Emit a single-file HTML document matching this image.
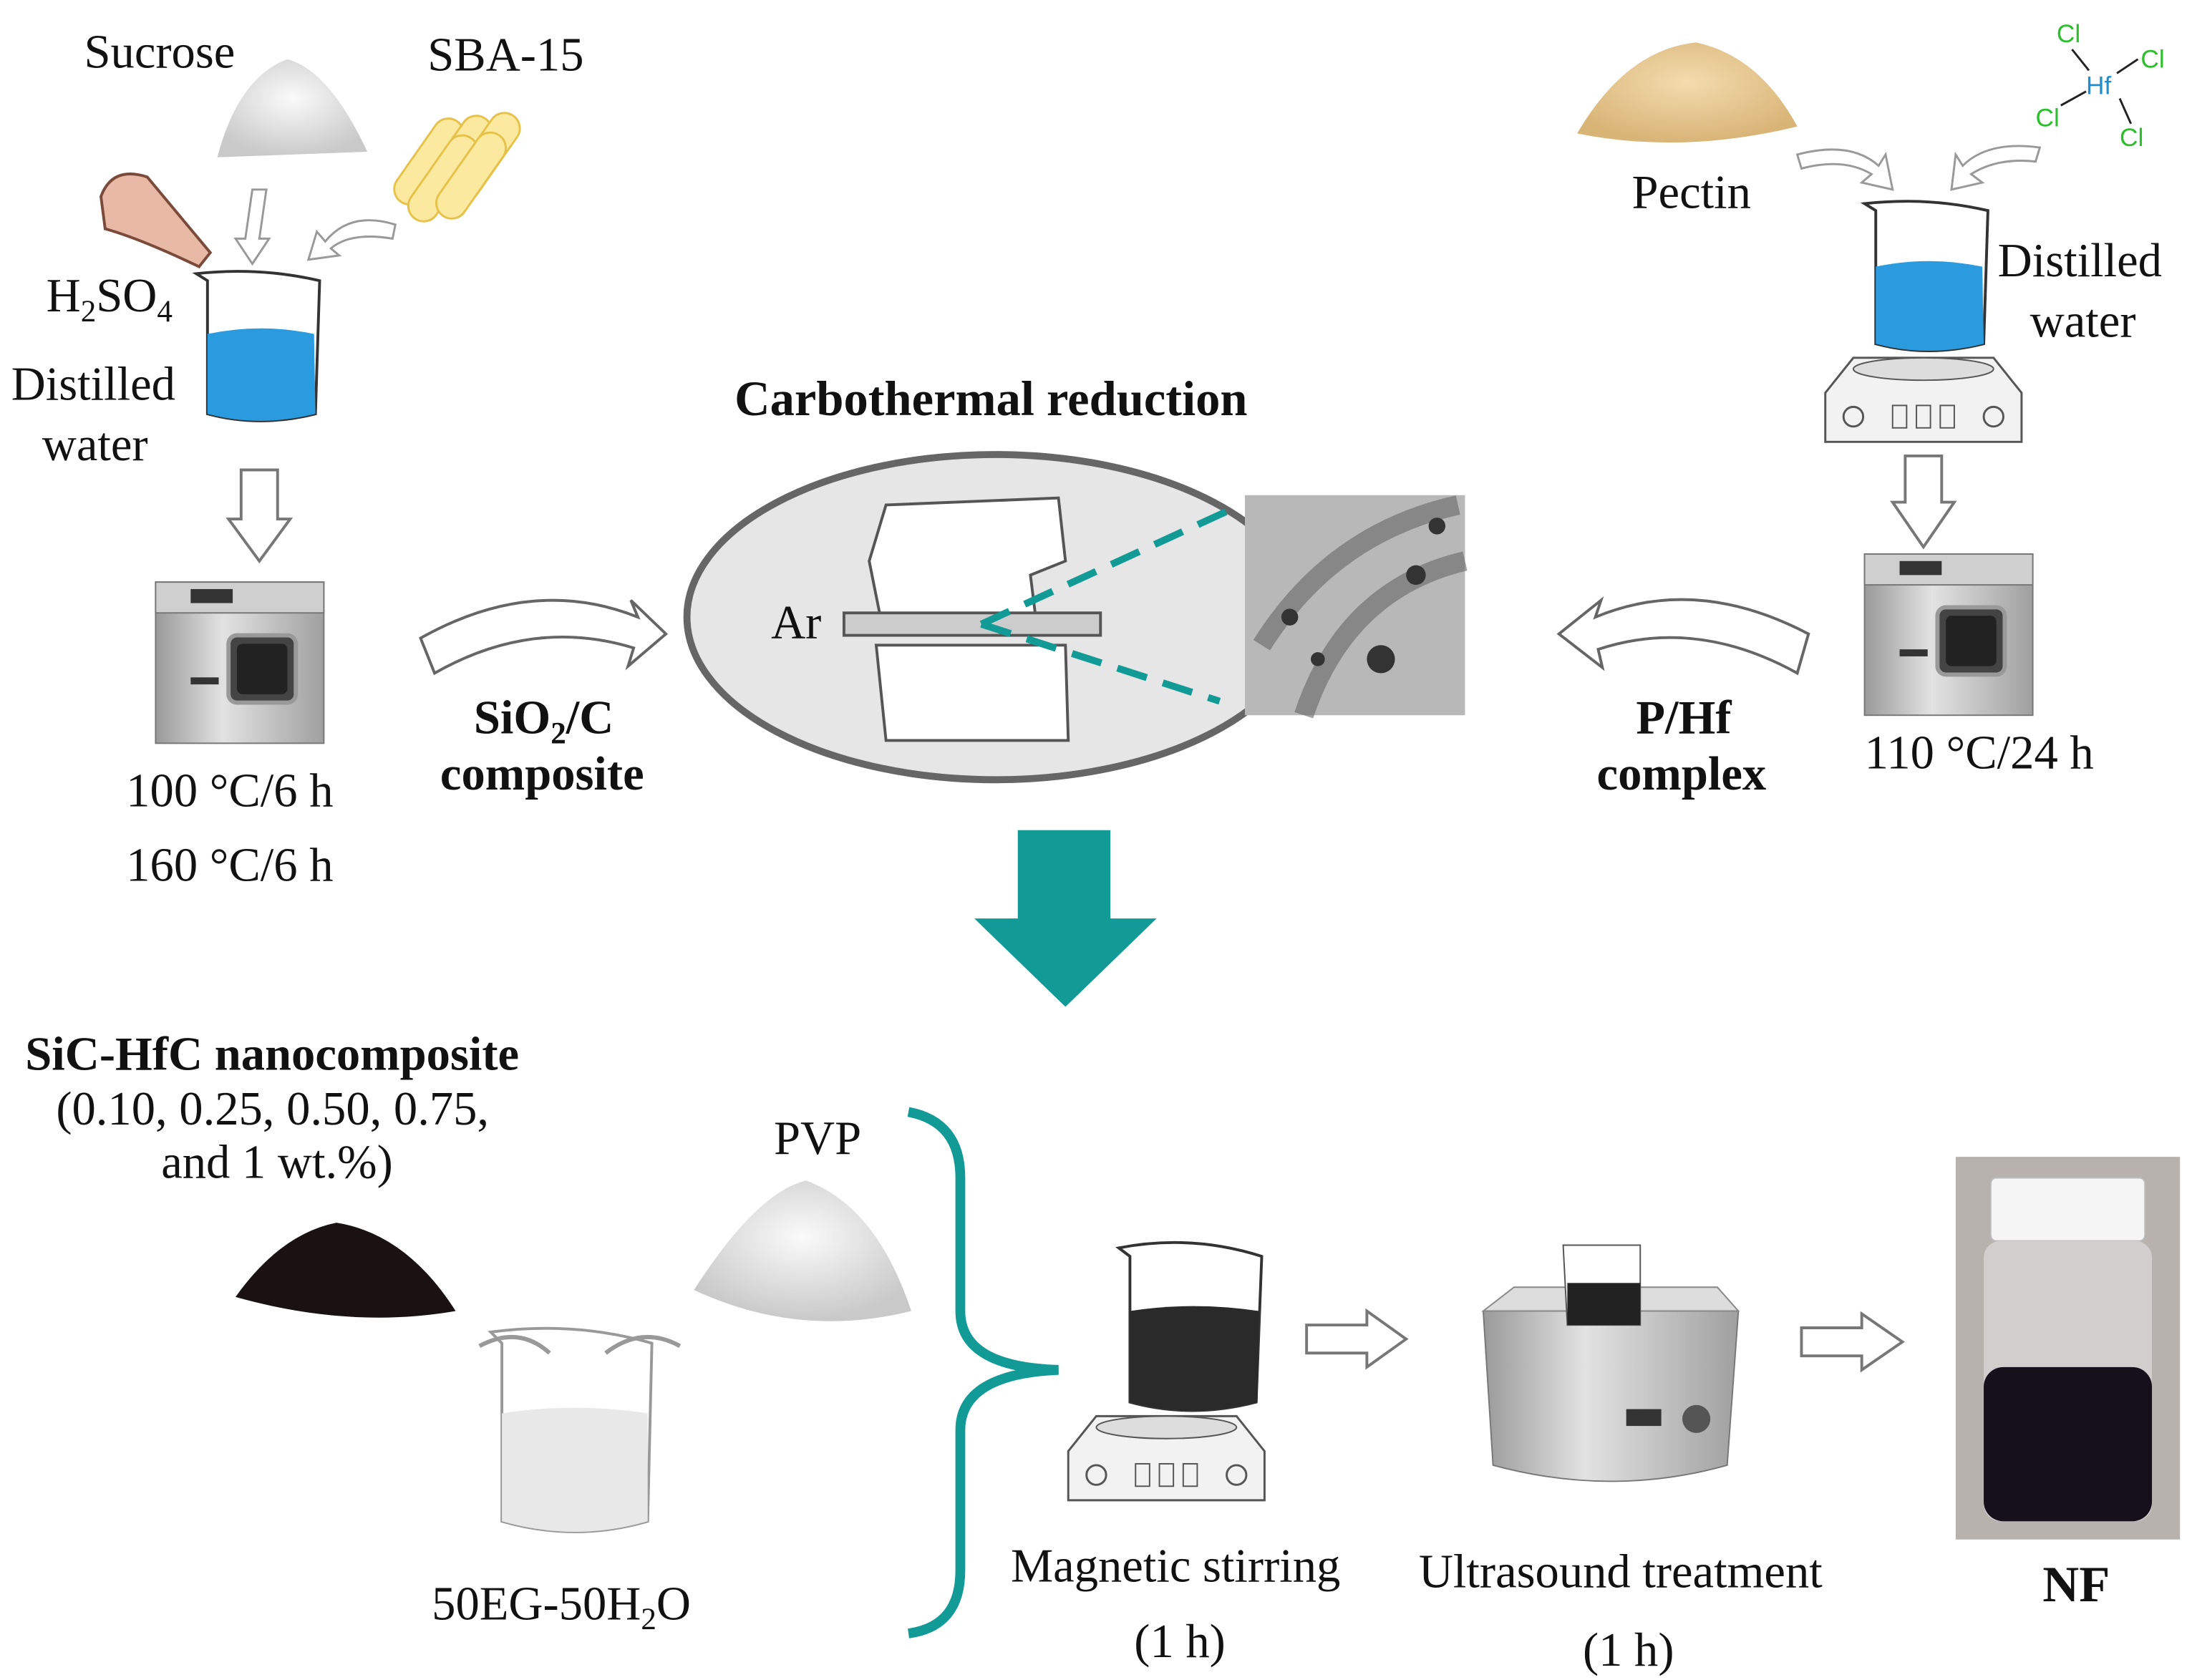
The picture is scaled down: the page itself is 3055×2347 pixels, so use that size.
<!DOCTYPE html>
<html><head><meta charset="utf-8"><style>
html,body{margin:0;padding:0;background:#fff}
svg{display:block}
text{font-family:"Liberation Serif",serif;fill:#111}
.b{font-weight:bold}
</style></head><body>
<svg width="3055" height="2347" viewBox="0 0 1560 1198" xmlns="http://www.w3.org/2000/svg">
<defs>
<radialGradient id="pw" cx="50%" cy="40%" r="60%"><stop offset="0" stop-color="#fafafa"/><stop offset="1" stop-color="#c9c9c9"/></radialGradient>
<radialGradient id="pt" cx="50%" cy="40%" r="60%"><stop offset="0" stop-color="#f3dcae"/><stop offset="1" stop-color="#d9b477"/></radialGradient>
<linearGradient id="met" x1="0" x2="1"><stop offset="0" stop-color="#9a9a9a"/><stop offset=".4" stop-color="#e2e2e2"/><stop offset="1" stop-color="#a0a0a0"/></linearGradient>
<g id="oven">
<rect x="0" y="0" width="120" height="115" fill="url(#met)" stroke="#777"/>
<rect x="0" y="0" width="120" height="22" fill="#cfcfcf" stroke="#777"/>
<rect x="25" y="5" width="30" height="10" fill="#333"/>
<rect x="52" y="38" width="48" height="48" rx="6" fill="#444" stroke="#999" stroke-width="3"/>
<rect x="58" y="44" width="36" height="36" rx="4" fill="#222"/>
<rect x="25" y="68" width="20" height="5" fill="#333"/>
</g>
<g id="hot">
<path d="M0 25 L20 0 L120 0 L140 25 L140 60 L0 60 Z" fill="#f2f2f2" stroke="#555" stroke-width="1.5"/>
<ellipse cx="70" cy="8" rx="50" ry="8" fill="#ddd" stroke="#555"/>
<circle cx="20" cy="42" r="7" fill="none" stroke="#555" stroke-width="1.5"/><circle cx="120" cy="42" r="7" fill="none" stroke="#555" stroke-width="1.5"/>
<rect x="48" y="34" width="10" height="16" fill="none" stroke="#555"/><rect x="65" y="34" width="10" height="16" fill="none" stroke="#555"/><rect x="82" y="34" width="10" height="16" fill="none" stroke="#555"/>
</g>
</defs>

<!-- LEFT TOP -->
<text x="60" y="48" font-size="34">Sucrose</text>
<text x="305" y="50" font-size="34">SBA-15</text>
<path d="M155 112 Q170 55 205 42 Q235 50 262 108 Z" fill="url(#pw)"/>
<g fill="#fbe9a0" stroke="#e6c24a" stroke-width="1.5">
<rect x="295" y="80" width="22" height="70" rx="11" transform="rotate(35 306 115)"/>
<rect x="315" y="78" width="22" height="70" rx="11" transform="rotate(35 326 113)"/>
<rect x="335" y="76" width="22" height="70" rx="11" transform="rotate(35 346 111)"/>
<rect x="305" y="92" width="22" height="70" rx="11" transform="rotate(35 316 127)"/>
<rect x="325" y="90" width="22" height="70" rx="11" transform="rotate(35 336 125)"/>
</g>
<path d="M72 140 Q80 118 105 126 L150 180 L142 190 Q100 170 75 163 Z" fill="#e8b9a5" stroke="#7a4a3a" stroke-width="2"/>
<path d="M180 135 L175 170 L168 170 L180 188 L192 170 L185 170 L190 135 Z" fill="#fff" stroke="#999" stroke-width="1.5"/>
<path d="M282 160 Q250 150 232 172 L226 165 L220 185 L242 182 L236 177 Q250 165 280 170 Z" fill="#fff" stroke="#999" stroke-width="1.5"/>
<text x="33" y="222" font-size="34">H<tspan font-size="22" dy="7">2</tspan><tspan dy="-7">SO</tspan><tspan font-size="22" dy="7">4</tspan></text>
<text x="8" y="285" font-size="34">Distilled</text>
<text x="30" y="328" font-size="34">water</text>
<path d="M140 195 L148 200 L148 295 Q185 305 225 295 L228 200 Q185 190 140 195 Z" fill="#fff" stroke="#333" stroke-width="2"/>
<path d="M148 238 Q186 230 224 238 L225 295 Q185 305 148 295 Z" fill="#2b9be0"/>
<path d="M172 335 L172 370 L163 370 L185 400 L207 370 L198 370 L198 335 Z" fill="#fff" stroke="#777" stroke-width="2"/>
<use href="#oven" x="111" y="415"/>
<text x="90" y="575" font-size="34">100 °C/6 h</text>
<text x="90" y="628" font-size="34">160 °C/6 h</text>
<path d="M300 455 Q380 410 455 440 L450 428 L475 452 L448 475 L452 462 Q380 440 310 480 Z" fill="#fff" stroke="#666" stroke-width="2"/>
<text x="338" y="523" font-size="34" class="b">SiO<tspan font-size="22" dy="7">2</tspan><tspan dy="-7">/C</tspan></text>
<text x="314" y="563" font-size="34" class="b">composite</text>

<!-- CENTER -->
<text x="524" y="296" font-size="35" class="b">Carbothermal reduction</text>
<ellipse cx="710" cy="440" rx="220" ry="116" fill="#e6e6e6" stroke="#666" stroke-width="5"/>
<g fill="#fff" stroke="#555" stroke-width="2">
<path d="M625 460 L760 460 L762 528 L632 528 Z"/>
<path d="M632 360 L755 355 L760 400 L735 410 L740 450 L630 450 L620 400 Z"/>
<rect x="602" y="437" width="183" height="16" fill="#ccc"/>
</g>
<text x="550" y="455" font-size="34">Ar</text>
<rect x="888" y="353" width="157" height="157" fill="#b8b8b8"/>
<path d="M900 460 Q950 380 1040 360 M930 510 Q960 420 1045 400" stroke="#666" stroke-width="14" fill="none" opacity=".6"/>
<g fill="#333"><circle cx="985" cy="470" r="10"/><circle cx="920" cy="440" r="6"/><circle cx="1010" cy="410" r="7"/><circle cx="940" cy="470" r="5"/><circle cx="1025" cy="375" r="6"/></g>
<path d="M700 445 L885 360 M700 445 L870 500" stroke="#129a96" stroke-width="5" stroke-dasharray="22 12" fill="none"/>

<!-- RIGHT TOP -->
<path d="M1125 95 Q1160 35 1210 30 Q1255 40 1282 90 Q1200 110 1125 95 Z" fill="url(#pt)"/>
<g font-size="18">
<text x="1467" y="30" style="fill:#2bbf2b;font-family:Liberation Sans,sans-serif">Cl</text>
<text x="1527" y="48" style="fill:#2bbf2b;font-family:Liberation Sans,sans-serif">Cl</text>
<text x="1452" y="90" style="fill:#2bbf2b;font-family:Liberation Sans,sans-serif">Cl</text>
<text x="1512" y="104" style="fill:#2bbf2b;font-family:Liberation Sans,sans-serif">Cl</text>
<text x="1488" y="67" style="fill:#1d8fd0;font-family:Liberation Sans,sans-serif">Hf</text>
</g>
<path d="M1478 35 L1490 50 M1525 42 L1510 52 M1470 75 L1488 65 M1512 70 L1520 88" stroke="#222" stroke-width="1.5"/>
<text x="1164" y="148" font-size="34">Pectin</text>
<path d="M1282 110 Q1320 100 1340 118 L1345 110 L1350 135 L1328 130 L1335 124 Q1315 112 1285 120 Z" fill="#fff" stroke="#999" stroke-width="1.5"/>
<path d="M1455 105 Q1418 100 1400 118 L1395 110 L1392 135 L1414 130 L1406 124 Q1425 112 1452 115 Z" fill="#fff" stroke="#999" stroke-width="1.5"/>
<path d="M1330 145 L1338 150 L1338 245 Q1375 255 1415 245 L1418 150 Q1375 140 1330 145 Z" fill="#fff" stroke="#333" stroke-width="2"/>
<path d="M1338 190 Q1376 182 1414 190 L1415 245 Q1375 255 1338 245 Z" fill="#2b9be0"/>
<use href="#hot" x="1302" y="255"/>
<text x="1425" y="197" font-size="34">Distilled</text>
<text x="1448" y="240" font-size="34">water</text>
<path d="M1359 325 L1359 358 L1350 358 L1372 390 L1394 358 L1385 358 L1385 325 Z" fill="#fff" stroke="#777" stroke-width="2"/>
<use href="#oven" x="1330" y="395"/>
<text x="1330" y="548" font-size="34">110 °C/24 h</text>
<path d="M1290 452 Q1210 410 1138 440 L1142 428 L1112 452 L1143 476 L1140 463 Q1210 440 1282 480 Z" fill="#fff" stroke="#666" stroke-width="2"/>
<text x="1167" y="523" font-size="34" class="b">P/Hf</text>
<text x="1139" y="563" font-size="34" class="b">complex</text>

<!-- BIG ARROW -->
<path d="M726 592 L792 592 L792 655 L825 655 L760 718 L695 655 L726 655 Z" fill="#129a96"/>

<!-- BOTTOM -->
<text x="18" y="763" font-size="34" class="b">SiC-HfC nanocomposite</text>
<text x="40" y="802" font-size="34">(0.10, 0.25, 0.50, 0.75,</text>
<text x="115" y="840" font-size="34">and 1 wt.%)</text>
<path d="M168 925 Q200 880 240 872 Q290 880 325 935 Q250 948 168 925 Z" fill="#1a1212"/>
<text x="552" y="823" font-size="34">PVP</text>
<path d="M495 920 Q540 850 575 842 Q625 860 650 935 Q570 955 495 920 Z" fill="url(#pw)"/>
<path d="M350 950 L358 958 L358 1085 Q410 1100 462 1085 L465 958 Q410 942 350 950 Z" fill="#fff" stroke="#999" stroke-width="2"/>
<path d="M358 1008 Q410 1000 462 1008 L462 1085 Q410 1100 358 1085 Z" fill="#e8e8e8"/>
<path d="M342 960 Q370 945 392 965 M485 960 Q458 945 432 965" stroke="#999" stroke-width="3" fill="none"/>
<text x="308" y="1155" font-size="34">50EG-50H<tspan font-size="22" dy="7">2</tspan><tspan dy="-7">O</tspan></text>
<path d="M648 793 Q685 800 685 840 L685 935 Q685 975 755 977 Q685 980 685 1020 L685 1120 Q685 1160 648 1165" stroke="#129a96" stroke-width="7" fill="none"/>
<path d="M798 890 L806 896 L806 1000 Q850 1012 896 1000 L900 896 Q850 880 798 890 Z" fill="#fff" stroke="#333" stroke-width="2"/>
<path d="M806 935 Q850 928 898 935 L897 1000 Q850 1012 806 1000 Z" fill="#2a2a2a"/>
<use href="#hot" x="762" y="1010"/>
<text x="721" y="1128" font-size="34">Magnetic stirring</text>
<text x="809" y="1182" font-size="34">(1 h)</text>
<path d="M932 945 L975 945 L975 935 L1003 955 L975 975 L975 965 L932 965 Z" fill="#fff" stroke="#777" stroke-width="2"/>
<path d="M1058 935 L1240 935 L1232 1045 Q1150 1068 1065 1045 Z" fill="url(#met)" stroke="#777"/>
<path d="M1058 935 L1080 918 L1225 918 L1240 935 Z" fill="#ddd" stroke="#888"/>
<path d="M1115 888 L1170 888 L1170 945 L1118 945 Z" fill="#fff" stroke="#555"/>
<rect x="1118" y="915" width="52" height="30" fill="#222"/>
<rect x="1160" y="1005" width="25" height="12" fill="#333"/><circle cx="1210" cy="1012" r="10" fill="#555"/>
<text x="1012" y="1132" font-size="34">Ultrasound treatment</text>
<text x="1129" y="1188" font-size="34">(1 h)</text>
<path d="M1285 947 L1328 947 L1328 937 L1357 957 L1328 977 L1328 967 L1285 967 Z" fill="#fff" stroke="#777" stroke-width="2"/>
<rect x="1395" y="825" width="160" height="273" fill="#b8b2ae"/>
<rect x="1420" y="840" width="110" height="45" rx="4" fill="#f5f5f5" stroke="#bbb"/>
<rect x="1415" y="885" width="120" height="200" rx="12" fill="#d2cecd"/>
<rect x="1415" y="975" width="120" height="110" rx="14" fill="#15101a"/>
<text x="1457" y="1142" font-size="36" class="b">NF</text>
</svg>
</body></html>
